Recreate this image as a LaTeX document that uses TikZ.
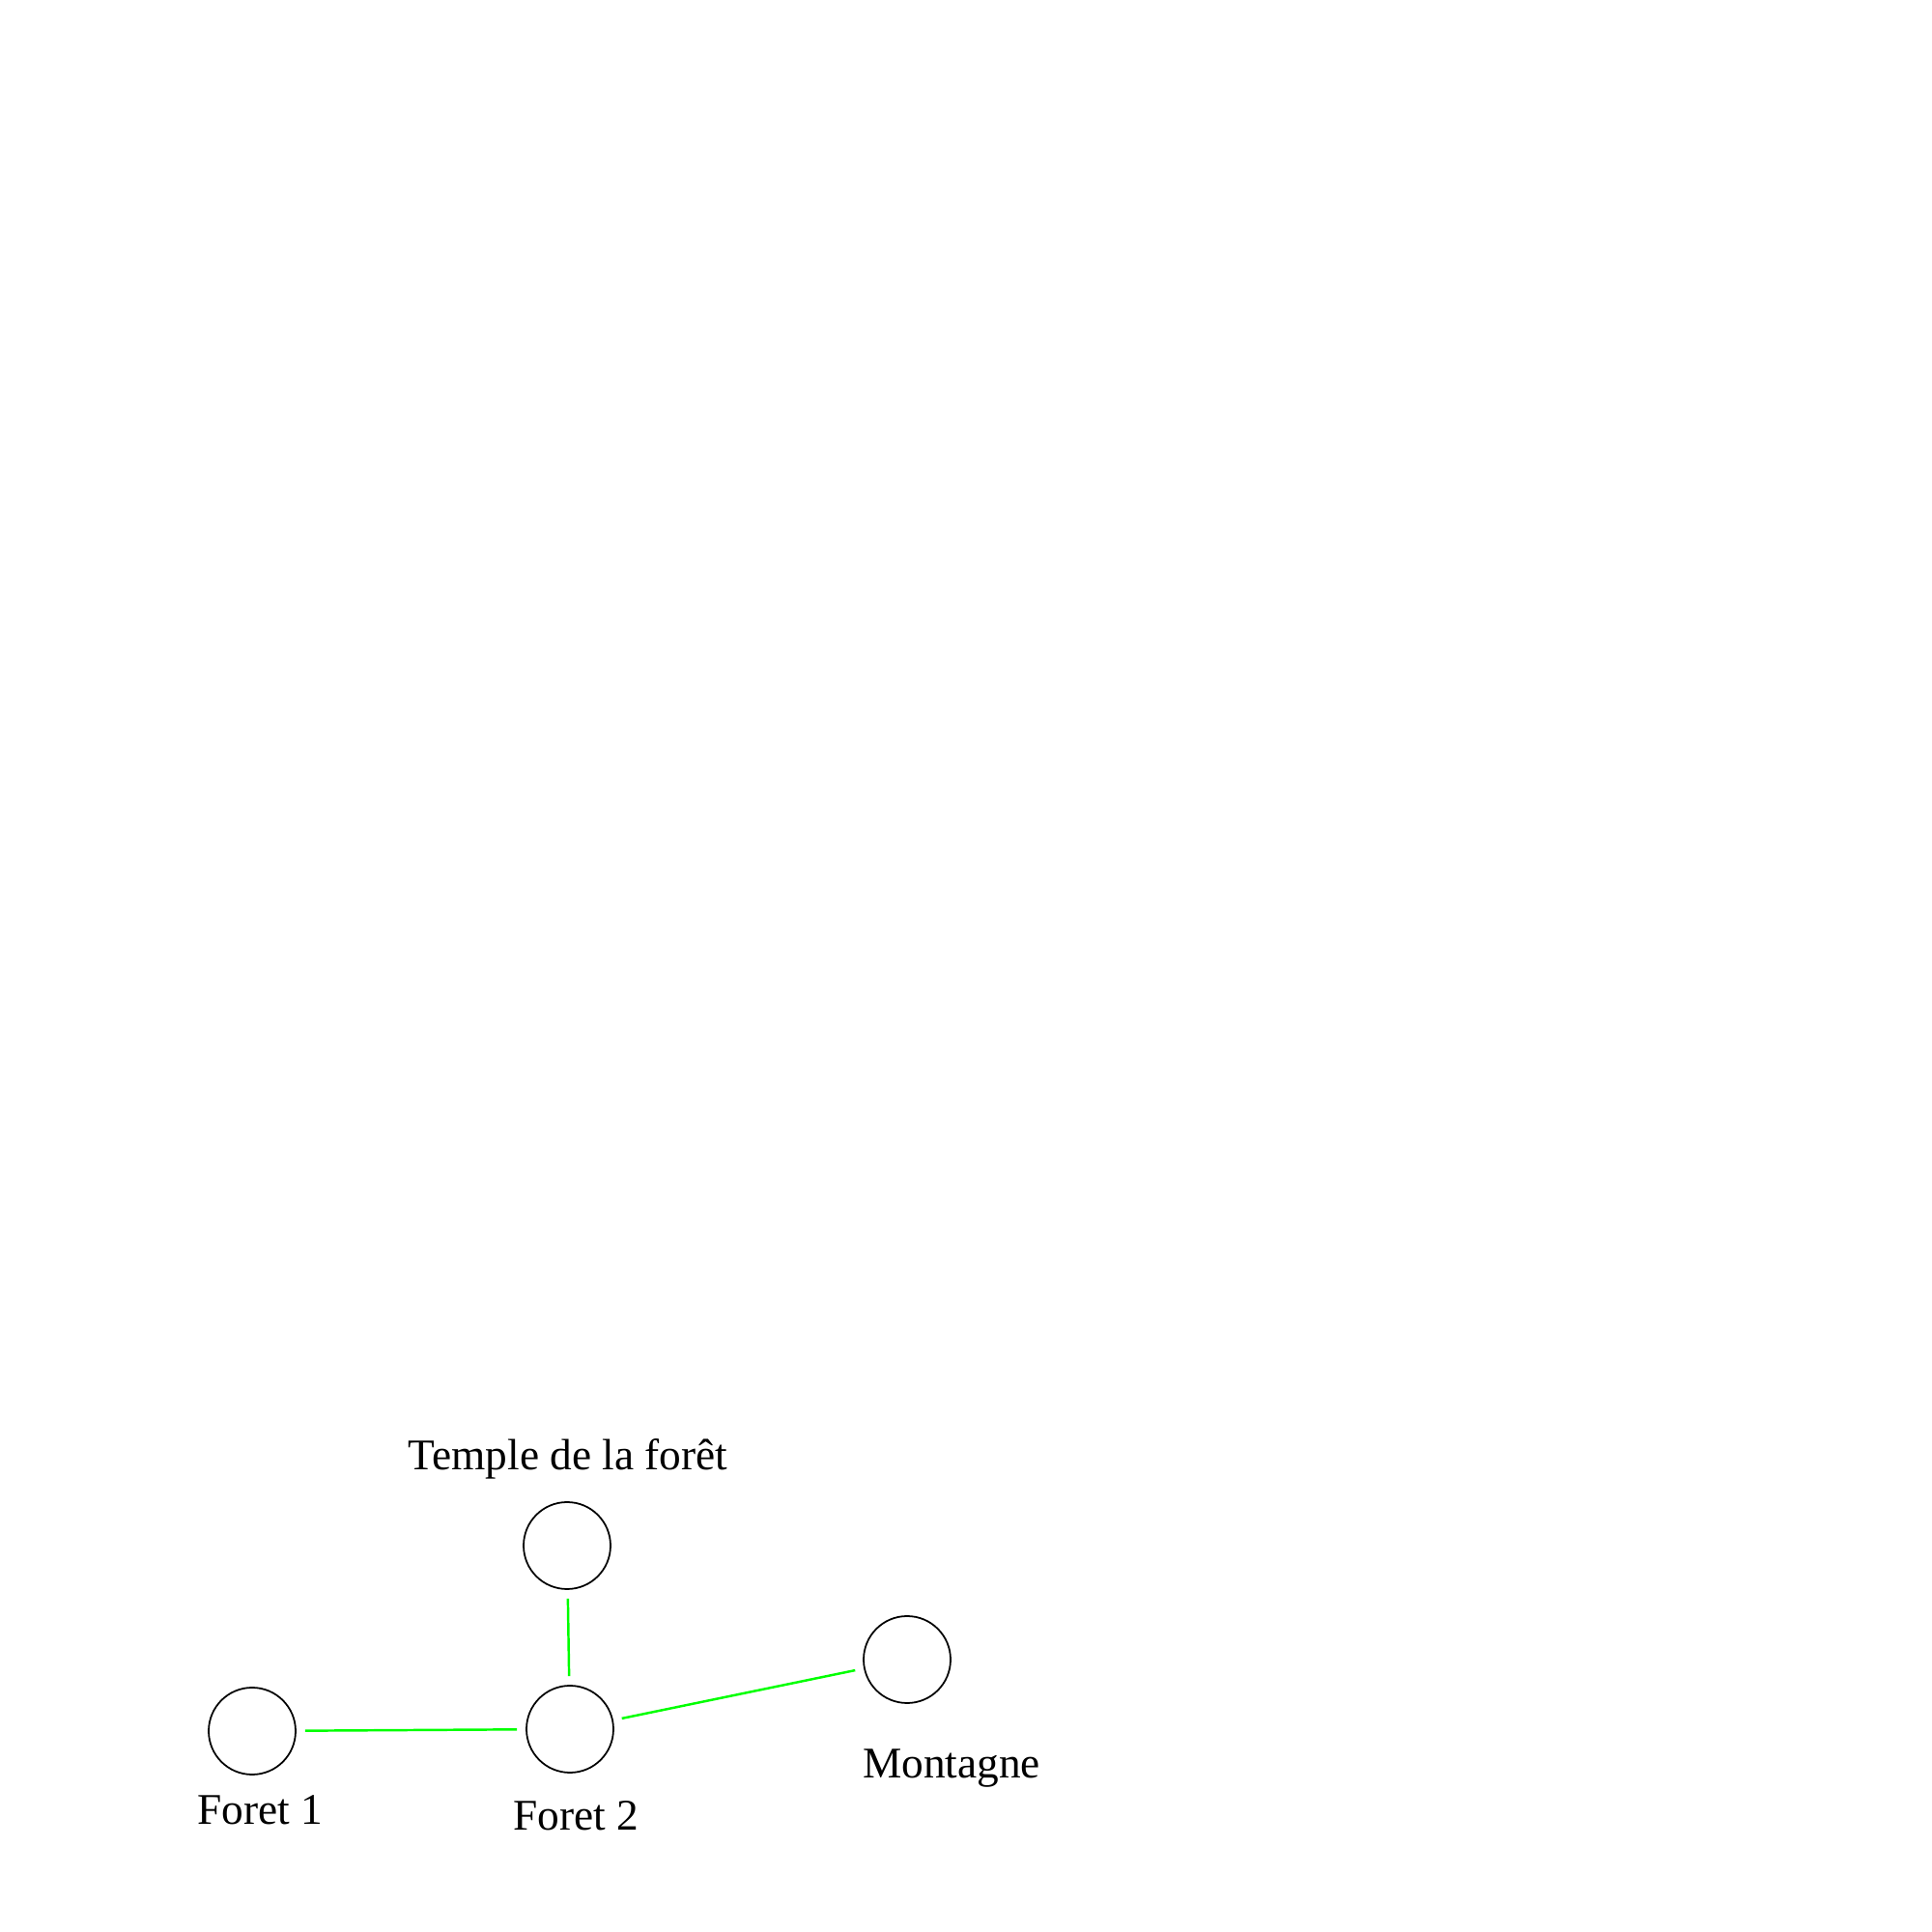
\documentclass[tikz,border=0pt]{standalone}
\usepackage{fontspec}
\setmainfont{Liberation Serif}
\usepackage{tikz}
\definecolor{pathgreen}{RGB}{0,255,0}
\tikzstyle{place} = [circle, draw, minimum size=0.9cm, inner sep=0pt,
                 outer sep=2.8pt, line width=0.5pt]
\tikzstyle{path} = [draw=pathgreen, line width=0.7pt]

\begin{document}
\begin{tikzpicture}[font=\fontsize{12.9}{15}\selectfont]

\useasboundingbox (0,0) rectangle (20,20);
    	%places
\foreach \x/\y/\place in {2.61/2.08/foret1, 5.90/2.10/foret2, 5.87/4.00/temple, 9.39/2.82/montagne}
	\node [place] at (\x,\y) (\place) {};

\node [anchor=base] at (5.88,4.78) (temple label) {Temple de la forêt};
\node [anchor=base] at (2.69,1.12) (foret1 label) {Foret 1};
\node [anchor=base] at (5.96,1.05) (foret2 label) {Foret 2};
\node [anchor=base] at (9.85,1.59) (montagne label) {Montagne};

	%paths
\draw [path] (foret1) -- (foret2);
\draw [path] (temple) -- (foret2);
\draw [path] (foret2) -- (montagne);

\end{tikzpicture}
\end{document}
